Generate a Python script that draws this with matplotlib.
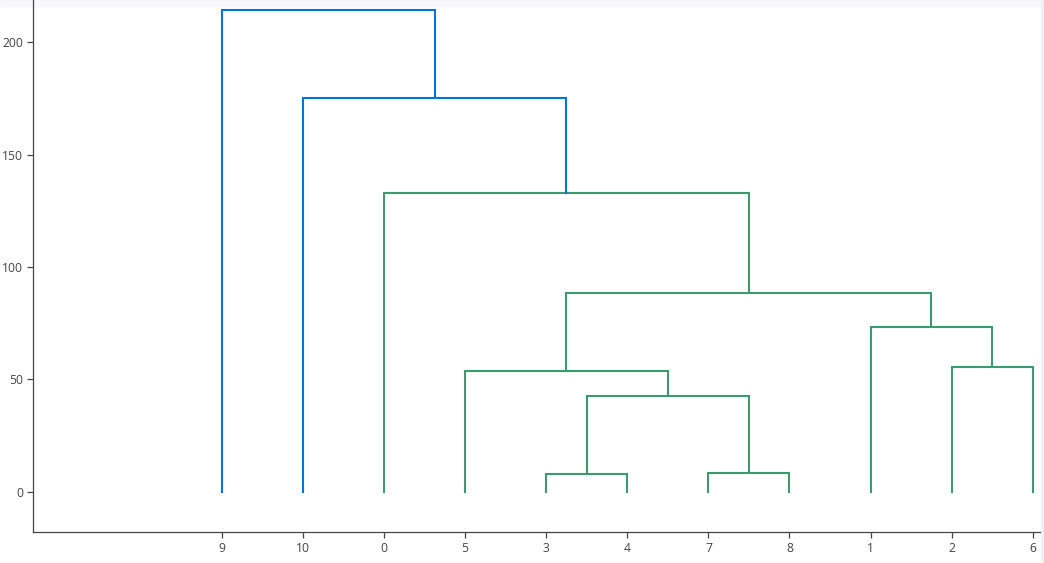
import matplotlib.pyplot as plt

# Leaf order along the x axis
leaf_labels = ["9", "10", "0", "5", "3", "4", "7", "8", "1", "2", "6"]

# Merges: (left child, right child, height); children are leaf labels or merge names
merge_names = ["A", "B", "C", "D", "E", "F", "G", "H", "I", "J"]
merge_left = ["3", "7", "A", "5", "2", "1", "D", "0", "10", "9"]
merge_right = ["4", "8", "B", "C", "6", "E", "F", "G", "H", "I"]
merge_height = [8.0, 8.4, 42.7, 53.8, 55.6, 73.3, 88.4, 132.9, 175.1, 214.2]
merge_color = ["green"] * 8 + ["blue"] * 2

colors = {"green": "#3D9970", "blue": "#0074D9"}

plt.rcParams["font.family"] = ["Open Sans", "DejaVu Sans"]

fig = plt.figure(figsize=(10.44, 5.63), dpi=100)
ax = fig.add_axes([33 / 1044, 31 / 563, 1007 / 1044, 532 / 563])
ax.patch.set_alpha(0)

# leaf positions like plotly's dendrogram: 5, 15, 25, ...
pos = {lab: 5 + 10 * i for i, lab in enumerate(leaf_labels)}
hgt = {lab: 0.0 for lab in leaf_labels}

for name, l, r, h, c in zip(merge_names, merge_left, merge_right, merge_height, merge_color):
    xl, xr = pos[l], pos[r]
    ax.plot([xl, xl, xr, xr], [hgt[l], h, h, hgt[r]], color=colors[c], lw=1.5,
            solid_joinstyle="miter")
    pos[name] = (xl + xr) / 2
    hgt[name] = h

ax.set_xlim(-18.3, 105.9)
ax.set_ylim(-17.8, 218.7)
ax.set_xticks([pos[lab] for lab in leaf_labels])
ax.set_xticklabels(leaf_labels)
ax.set_yticks([0, 50, 100, 150, 200])

for s in ["top", "right"]:
    ax.spines[s].set_visible(False)
for s in ["left", "bottom"]:
    ax.spines[s].set_color("#444444")
    ax.spines[s].set_linewidth(0.9)
ax.tick_params(colors="#444444", labelsize=8.7, length=4, width=0.9, pad=3)
ax.grid(False)

# faint frame strips along the top and right edges
fig.patches.append(plt.Rectangle((0, 1 - 6 / 563), 1, 6 / 563, transform=fig.transFigure,
                                 color="#f8f8fa", zorder=-1))
fig.patches.append(plt.Rectangle((1 - 3 / 1044, 0), 3 / 1044, 1, transform=fig.transFigure,
                                 color="#eef1f7", zorder=-1))

fig.savefig("out.png", dpi=100)
